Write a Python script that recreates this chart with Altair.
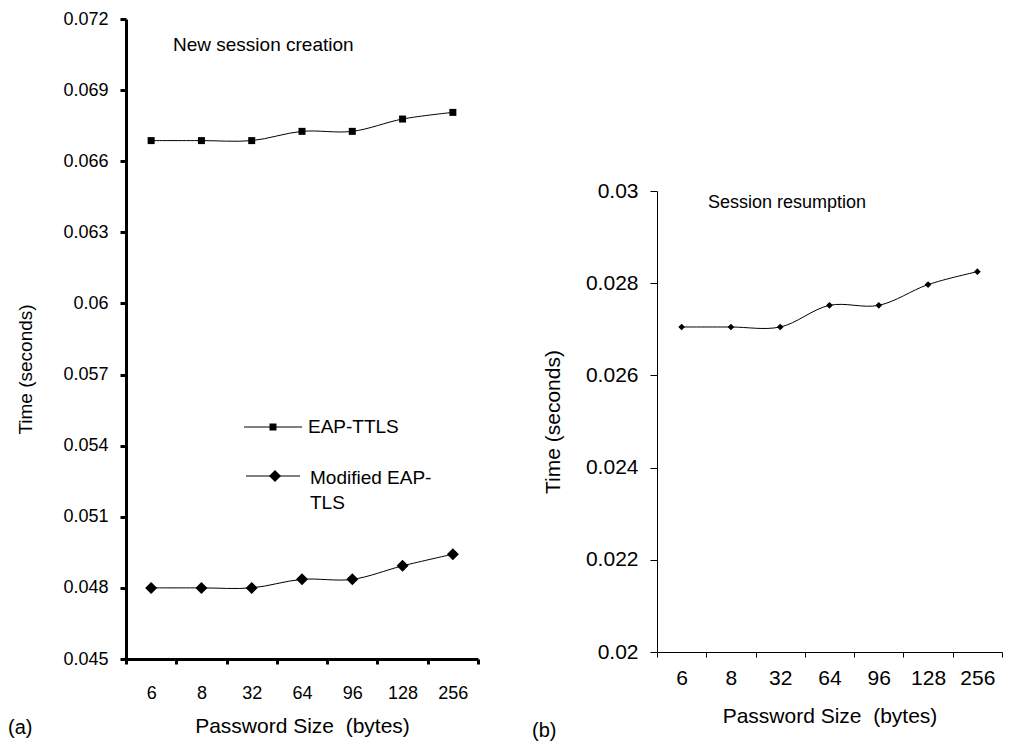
import altair as alt
import pandas as pd

sizes = ["6", "8", "32", "64", "96", "128", "256"]
eap_ttls = [0.06687, 0.06687, 0.06687, 0.06726, 0.06726, 0.06778, 0.06806]
modified_eap_tls = [0.0480, 0.0480, 0.0480, 0.04836, 0.04836, 0.04893, 0.04942]
resumption = [0.02705, 0.02705, 0.02705, 0.02752, 0.02752, 0.02797, 0.02825]
left_ticks = [0.045, 0.048, 0.051, 0.054, 0.057, 0.06, 0.063, 0.066, 0.069, 0.072]
right_ticks = [0.02, 0.022, 0.024, 0.026, 0.028, 0.03]

FONT = "Liberation Sans"
one = pd.DataFrame({"k": [0]})

df_ttls = pd.DataFrame({"size": sizes, "time": eap_ttls})
df_mod = pd.DataFrame({"size": sizes, "time": modified_eap_tls})
df_res = pd.DataFrame({"size": sizes, "time": resumption})

XTITLE = "Password Size\u00a0 (bytes)"
INTERP = "catmull-rom"


def x_enc(label_size, title_size, label_pad, title_pad, width):
    return alt.X(
        "size:N", sort=sizes,
        scale=alt.Scale(type="band", paddingInner=0, paddingOuter=0),
        axis=alt.Axis(title=XTITLE, tickBand="extent", labelAngle=0,
                      labelFontSize=label_size, titleFontSize=title_size,
                      labelPadding=label_pad, titlePadding=title_pad,
                      tickSize=5, domainWidth=width, tickWidth=width,
                      labelFont=FONT, titleFont=FONT, titleFontWeight="normal",
                      domainColor="black", tickColor="black",
                      labelColor="black", titleColor="black"),
    )


def y_enc(domain, ticks, label_size, title_size, label_pad, title_pad, width, tick_size, **kw):
    return alt.Y(
        "time:Q",
        scale=alt.Scale(domain=domain, nice=False, zero=False),
        axis=alt.Axis(title="Time (seconds)", values=ticks, format="~g",
                      labelFontSize=label_size, titleFontSize=title_size,
                      labelPadding=label_pad, titlePadding=title_pad,
                      tickSize=tick_size, domainWidth=width, tickWidth=width,
                      labelFont=FONT, titleFont=FONT, titleFontWeight="normal",
                      domainColor="black", tickColor="black",
                      labelColor="black", titleColor="black", grid=False, **kw),
    )


# ---------- left panel (a) ----------
LW, LH = 352, 640
xl = x_enc(18, 21, 20, 13, 3)
yl = y_enc([0.045, 0.072], left_ticks, 18, 19, 12, 27, 3, 6, titleY=350)

ttls_line = alt.Chart(df_ttls).mark_line(color="black", strokeWidth=1, interpolate=INTERP).encode(x=xl, y=yl)
ttls_pts = alt.Chart(df_ttls).mark_point(shape="square", filled=True, size=49, color="black", opacity=1).encode(x=xl, y=yl)
mod_line = alt.Chart(df_mod).mark_line(color="black", strokeWidth=1, interpolate=INTERP).encode(x=xl, y=yl)
mod_pts = alt.Chart(df_mod).mark_point(shape="diamond", filled=True, size=144, color="black", opacity=1).encode(x=xl, y=yl)


def txt(s, x, y, size=19, align="left", baseline="alphabetic"):
    return alt.Chart(one).mark_text(align=align, baseline=baseline, fontSize=size, font=FONT, color="black").encode(
        x=alt.value(x), y=alt.value(y), text=alt.value(s))


leg1_line = alt.Chart(one).mark_rule(color="black", strokeWidth=1).encode(x=alt.value(118), x2=alt.value(176), y=alt.value(408))
leg1_pt = alt.Chart(one).mark_point(shape="square", filled=True, size=49, color="black", opacity=1).encode(x=alt.value(147), y=alt.value(408))
leg2_line = alt.Chart(one).mark_rule(color="black", strokeWidth=1).encode(x=alt.value(120), x2=alt.value(174), y=alt.value(457))
leg2_pt = alt.Chart(one).mark_point(shape="diamond", filled=True, size=144, color="black", opacity=1).encode(x=alt.value(149), y=alt.value(457))

left = alt.layer(
    ttls_line, ttls_pts, mod_line, mod_pts,
    leg1_line, leg1_pt, txt("EAP-TTLS", 182, 414),
    leg2_line, leg2_pt, txt("Modified EAP-", 184, 465), txt("TLS", 184, 490),
    txt("New session creation", 47, 32, 19),
    txt("(a)", -118, 715, 20),
).properties(width=LW, height=LH)

# ---------- right panel (b) ----------
RW, RH = 345, 461
xr = x_enc(21, 21, 10, 17, 1)
yr = y_enc([0.02, 0.03], right_ticks, 21, 21, 12, 22, 1, 7)

res_line = alt.Chart(df_res).mark_line(color="black", strokeWidth=1, interpolate=INTERP).encode(x=xr, y=yr)
res_pts = alt.Chart(df_res).mark_point(shape="diamond", filled=True, size=45, color="black", opacity=1).encode(x=xr, y=yr)

right_plot = alt.layer(
    res_line, res_pts,
    txt("Session resumption", 51, 17, 18),
    txt("(b)", -125, RH + 85, 20),
).properties(width=RW, height=RH)

spacer = alt.Chart(one).mark_point(opacity=0).properties(width=10, height=161)
right = alt.vconcat(spacer, right_plot, spacing=0)

chart = alt.hconcat(left, right, spacing=52).properties(
    padding={"left": 0, "top": 2, "right": 0, "bottom": 0}
).configure_view(stroke=None)

chart.save("out.html", embed_options={"renderer": "svg", "actions": False})
